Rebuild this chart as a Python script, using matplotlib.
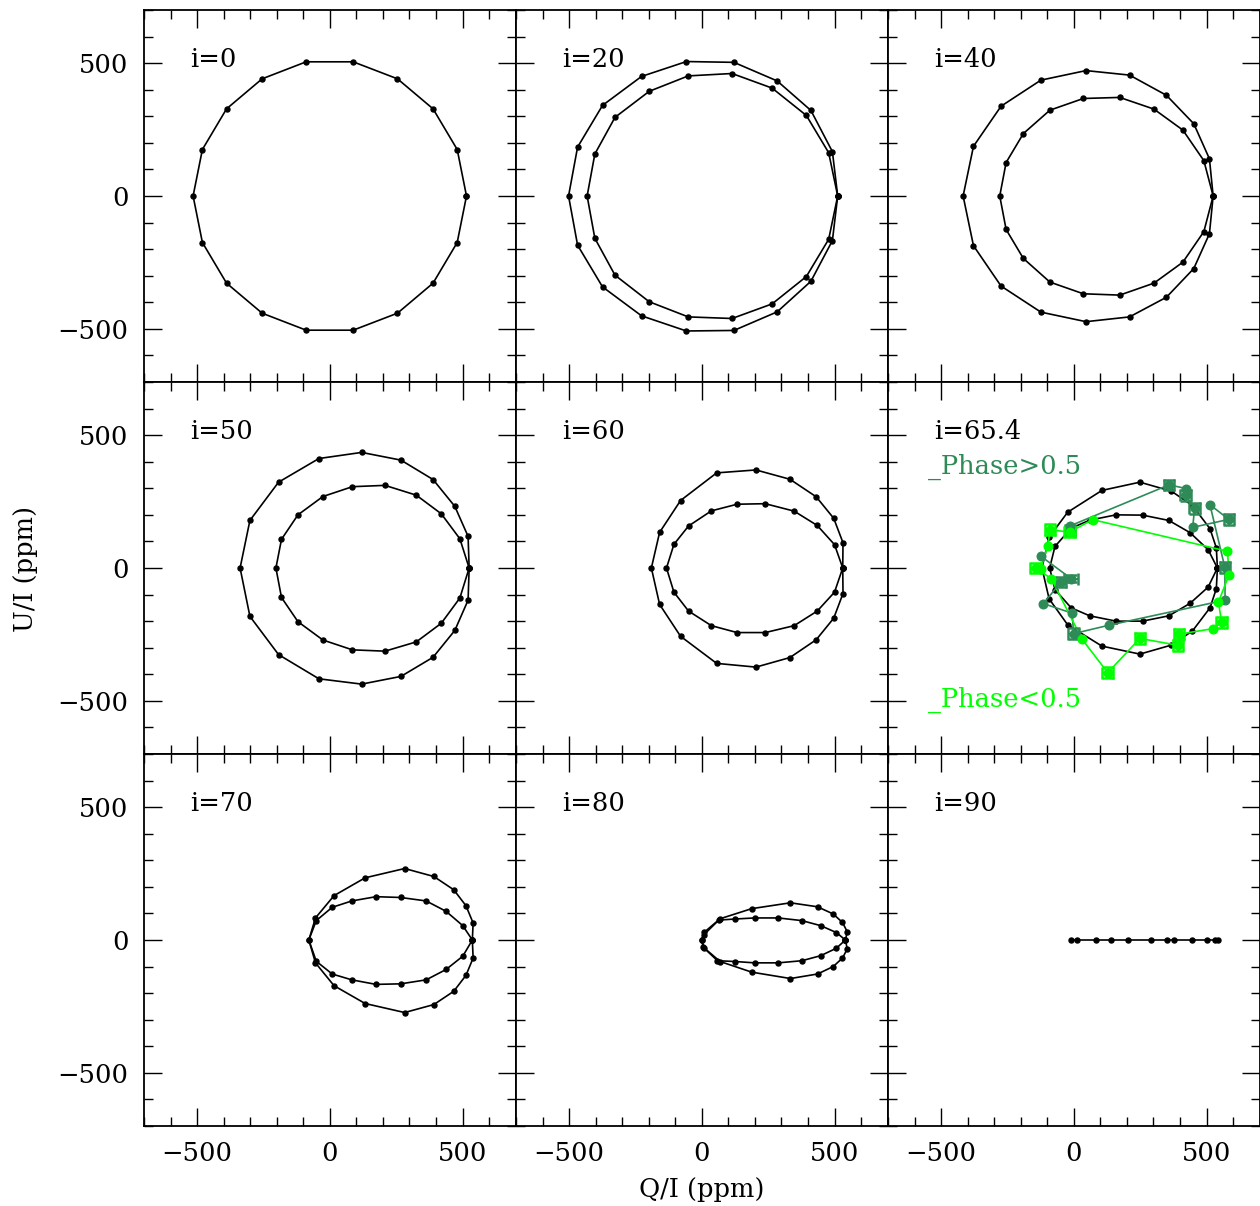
import numpy as np
import matplotlib
matplotlib.use("Agg")
import matplotlib.pyplot as plt
from matplotlib.ticker import MultipleLocator, FixedLocator

plt.rcParams['font.family'] = ['DejaVu Serif']
plt.rcParams['axes.unicode_minus'] = True

# ---- model Q/U loops (ppm), outer and inner loop of the double-frequency curve ----
Q00 = [515, 480, 389, 255, 88, -89, -255, -389, -480, -515, -480, -389, -255, -89, 88, 255, 389, 480]
U00 = [0, 175, 328, 441, 505, 505, 441, 328, 175, 0, -175, -328, -441, -505, -505, -441, -328, -175]

Q20_OUT = [512, 492, 411, 284, 121, -58, -227, -374, -468, -502, -468, -374, -227, -58, 121, 284, 411, 492]
U20_OUT = [0, 167, 322, 433, 503, 506, 450, 341, 184, 0, -185, -342, -451, -508, -506, -436, -321, -168]
Q20_IN = [512, 478, 394, 265, 114, -51, -198, -327, -403, -432, -403, -327, -198, -51, 114, 265, 394, 478]
U20_IN = [0, 163, 303, 406, 461, 452, 394, 296, 158, 0, -159, -298, -398, -455, -461, -406, -303, -163]

Q40_OUT = [525, 511, 452, 349, 210, 46, -124, -274, -378, -417, -378, -274, -124, 46, 210, 349, 452, 511]
U40_OUT = [0, 140, 272, 379, 455, 472, 436, 338, 187, 0, -187, -339, -437, -473, -455, -381, -273, -142]
Q40_IN = [525, 490, 411, 302, 173, 36, -90, -190, -255, -279, -255, -190, -90, 36, 173, 302, 411, 490]
U40_IN = [0, 133, 248, 327, 371, 367, 323, 235, 126, 0, -126, -235, -324, -368, -373, -328, -249, -134]

Q50_OUT = [525, 521, 471, 389, 268, 120, -41, -193, -301, -338, -301, -193, -41, 120, 268, 389, 471, 521]
U50_OUT = [0, 119, 232, 333, 406, 435, 412, 323, 179, 0, -182, -326, -417, -437, -408, -336, -235, -121]
Q50_IN = [525, 490, 420, 326, 208, 85, -26, -120, -182, -203, -182, -120, -26, 85, 208, 326, 420, 490]
U50_IN = [0, 110, 204, 274, 311, 306, 269, 200, 108, 0, -111, -202, -271, -308, -313, -278, -208, -113]

Q60_OUT = [531, 532, 497, 431, 332, 204, 56, -80, -159, -190, -159, -80, 56, 204, 332, 431, 497, 532]
U60_OUT = [0, 95, 187, 268, 334, 369, 358, 254, 134, 0, -137, -257, -359, -373, -337, -270, -189, -96]
Q60_IN = [531, 500, 435, 348, 239, 133, 36, -50, -105, -133, -105, -50, 36, 133, 239, 348, 435, 500]
U60_IN = [0, 88, 160, 214, 242, 240, 215, 158, 89, 0, -91, -162, -217, -243, -243, -217, -162, -91]

Q65_OUT = [541, 537, 513, 447, 368, 249, 106, -23, -93, -120, -93, -23, 106, 249, 368, 447, 513, 537]
U65_OUT = [0, 76, 148, 235, 289, 323, 292, 210, 116, 0, -116, -214, -294, -324, -290, -237, -150, -78]
Q65_IN = [541, 506, 438, 358, 259, 159, 60, -10, -71, -91, -71, -10, 60, 159, 259, 358, 438, 506]
U65_IN = [0, 69, 133, 179, 199, 200, 180, 150, 81, 0, -81, -150, -180, -200, -200, -180, -133, -72]

Q70_OUT = [537, 540, 513, 467, 392, 282, 133, 16, -54, -79, -54, 16, 133, 282, 392, 467, 513, 540]
U70_OUT = [0, 64, 129, 189, 239, 269, 234, 167, 83, 0, -86, -172, -239, -273, -243, -193, -133, -68]
Q70_IN = [537, 501, 438, 363, 267, 174, 83, 9, -51, -79, -51, 9, 83, 174, 267, 363, 438, 501]
U70_IN = [0, 54, 108, 147, 160, 163, 147, 123, 73, 0, -80, -128, -150, -167, -165, -150, -111, -61]

Q80_OUT = [541, 548, 530, 495, 436, 334, 188, 69, 9, -1, 9, 69, 188, 334, 436, 495, 530, 548]
U80_OUT = [0, 31, 66, 98, 125, 140, 118, 80, 29, 0, -30, -81, -121, -145, -128, -100, -68, -34]
Q80_IN = [541, 507, 448, 377, 288, 199, 126, 64, 8, -1, 6, 59, 126, 199, 288, 377, 448, 507]
U80_IN = [0, 28, 54, 73, 83, 83, 79, 75, 20, 0, -28, -78, -81, -86, -86, -78, -59, -31]

Q90 = [-11, 13, 83, 140, 204, 291, 350, 376, 445, 501, 533, 545]
U90 = [0, 0, 0, 0, 0, 0, 0, 0, 0, 0, 0, 0]

# ---- observed data at i=65.4 ----
Q_HI = [-125, -10, -48, -115, -6, -1, 134, 570, 569, 513, 584, 448, 455, 421, 423, 359, -13, -15]
U_HI = [45, -40, -53, -134, -170, -247, -215, -121, 3, 238, 183, 153, 224, 274, 299, 313, 159, 140]
QERR_HI = [0, 26, 20, 0, 0, 20, 0, 0, 20, 0, 20, 0, 20, 20, 0, 20, 0, 20]
UERR_HI = [0, 14, 20, 0, 0, 20, 0, 0, 20, 0, 20, 0, 20, 20, 0, 20, 0, 20]

Q_LO = [-144, -85, 31, 128, 249, 393, 397, 526, 557, 545, 585, 579, 71, -16, -89, -98, -125]
U_LO = [0, -40, -268, -394, -265, -291, -249, -228, -205, -128, -25, 63, 182, 135, 144, 83, -3]
QERR_LO = [20, 0, 0, 20, 20, 20, 20, 0, 20, 0, 0, 0, 0, 20, 20, 0, 0]
UERR_LO = [20, 0, 0, 20, 20, 20, 20, 0, 20, 0, 0, 0, 0, 20, 20, 0, 0]

INCLINATIONS = ["i=0", "i=20", "i=40", "i=50", "i=60", "i=65.4", "i=70", "i=80", "i=90"]
TICKS = [-500, 0, 500]
TICK_LABELS = ["\u2212500", "0", "500"]

MODELS = [
    [(Q00, U00)],
    [(Q20_OUT, U20_OUT), (Q20_IN, U20_IN)],
    [(Q40_OUT, U40_OUT), (Q40_IN, U40_IN)],
    [(Q50_OUT, U50_OUT), (Q50_IN, U50_IN)],
    [(Q60_OUT, U60_OUT), (Q60_IN, U60_IN)],
    [(Q65_OUT, U65_OUT), (Q65_IN, U65_IN)],
    [(Q70_OUT, U70_OUT), (Q70_IN, U70_IN)],
    [(Q80_OUT, U80_OUT), (Q80_IN, U80_IN)],
    None,
]

DARK = "#2e8b57"
LIME = "#00ff00"
FS = 18.5

W, H = 1260.0, 1206.0
fig = plt.figure(figsize=(W / 100, H / 100), dpi=100)

axes = []
for r in range(3):
    for c in range(3):
        x0 = (144 + 372 * c) / W
        y0 = 1 - (10 + 372 * (r + 1)) / H
        ax = fig.add_axes([x0, y0, 371.6 / W, 372 / H])
        axes.append((r, c, ax))

for k, (r, c, ax) in enumerate(axes):
    ax.set_xlim(-700, 700)
    ax.set_ylim(-700, 700)
    ax.xaxis.set_major_locator(FixedLocator(TICKS))
    ax.yaxis.set_major_locator(FixedLocator(TICKS))
    ax.xaxis.set_minor_locator(MultipleLocator(100))
    ax.yaxis.set_minor_locator(MultipleLocator(100))
    ax.tick_params(which='both', direction='in', top=True, right=True,
                   width=1.0, labelsize=FS, color='black')
    ax.tick_params(which='major', length=13)
    ax.tick_params(which='minor', length=6.5)
    ax.tick_params(axis='x', pad=11)
    ax.tick_params(axis='y', pad=11)
    for s in ax.spines.values():
        s.set_linewidth(1.3)
    if r == 2:
        ax.set_xticklabels(TICK_LABELS)
    else:
        ax.set_xticklabels([])
    if c == 0:
        ax.set_yticklabels(TICK_LABELS)
    else:
        ax.set_yticklabels([])

    model = MODELS[k]
    if model is None:
        order = np.argsort(Q90)
        ax.plot(np.array(Q90)[order], np.array(U90)[order], '-o', color='black',
                lw=1.2, ms=3.6, zorder=3)
    else:
        for q, u in model:
            qq = np.append(q, q[0])
            uu = np.append(u, u[0])
            ax.plot(qq, uu, '-o', color='black', lw=1.2, ms=3.6, zorder=3)

    ax.text(0.124, 0.847, INCLINATIONS[k], transform=ax.transAxes,
            fontsize=FS, ha='left', va='baseline', color='black')

    if INCLINATIONS[k] == "i=65.4":
        for q, u, qe, ue, col in [(Q_HI, U_HI, QERR_HI, UERR_HI, DARK),
                                   (Q_LO, U_LO, QERR_LO, UERR_LO, LIME)]:
            q = np.array(q); u = np.array(u)
            qe = np.array(qe); ue = np.array(ue)
            ax.plot(q, u, '-', color=col, lw=1.2, zorder=4)
            m = qe > 0
            ax.errorbar(q[m], u[m], xerr=qe[m], yerr=ue[m], fmt='none',
                        ecolor=col, elinewidth=1.6, capsize=4.2,
                        capthick=1.8, zorder=5)
            ax.plot(q, u, 'o', color=col, ms=6.2, zorder=6)
        ax.text(0.107, 0.753, "_Phase>0.5", transform=ax.transAxes,
                fontsize=FS, ha='left', va='baseline', color=DARK)
        ax.text(0.107, 0.126, "_Phase<0.5", transform=ax.transAxes,
                fontsize=FS, ha='left', va='baseline', color=LIME)

fig.text(702 / W, 1 - 1190 / H, "Q/I (ppm)", fontsize=FS, ha='center', va='center')
fig.text(25 / W, 1 - 569 / H, "U/I (ppm)", fontsize=FS, ha='center', va='center',
         rotation=90)

fig.savefig("out.png", dpi=100)
